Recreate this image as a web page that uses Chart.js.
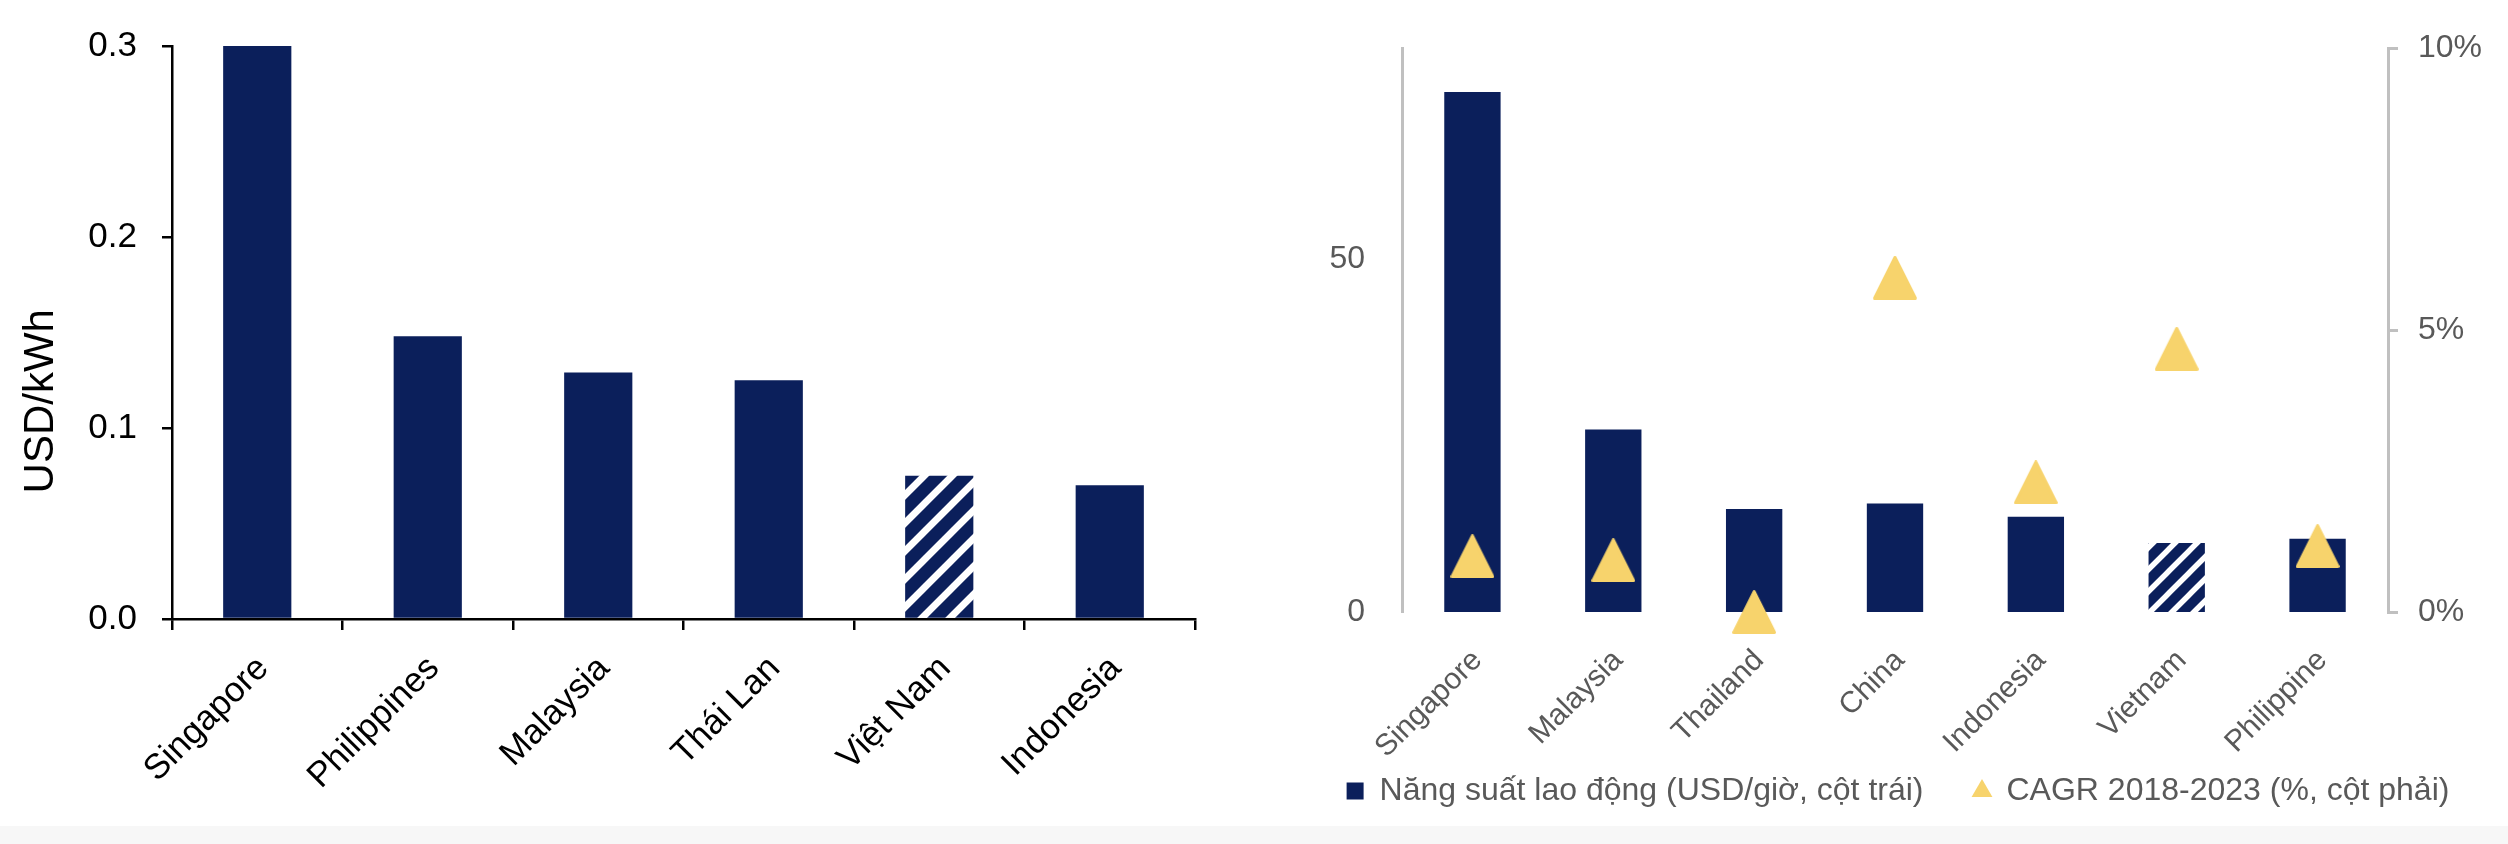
<!DOCTYPE html>
<html><head><meta charset="utf-8">
<script src="https://cdn.jsdelivr.net/npm/chart.js@4.4.1/dist/chart.umd.min.js"></script>
<style>
html,body{margin:0;padding:0;background:#fff;width:2508px;height:844px;overflow:hidden;}
#c1{position:absolute;left:0;top:0;}
#c2{position:absolute;left:1288px;top:0;}
#strip{position:absolute;left:0;top:826px;width:2508px;height:18px;background:#f7f7f7;}
</style></head><body>
<canvas id="c1" width="1288" height="826"></canvas>
<canvas id="c2" width="1220" height="826"></canvas>
<div id="strip"></div>
<script>
// ---------- data: left chart (electricity price) ----------
const costCategories = ['Singapore', 'Philippines', 'Malaysia', 'Thái Lan', 'Việt Nam', 'Indonesia'];
const costValues = [0.300, 0.148, 0.129, 0.125, 0.075, 0.070];
const costHatchedCategory = 'Việt Nam';
const costTicks = [0, 0.1, 0.2, 0.3];
const costAxisTitle = 'USD/kWh';

// ---------- data: right chart (labour productivity) ----------
const prodCategories = ['Singapore', 'Malaysia', 'Thailand', 'China', 'Indonesia', 'Vietnam', 'Philippine'];
const prodValues = [73.8, 25.9, 14.6, 15.4, 13.5, 9.8, 10.4];
const cagrValues = [0.99, 0.92, 0.0, 5.93, 2.30, 4.67, 1.17];
const prodHatchedCategory = 'Vietnam';
const prodTicks = [0, 50];
const cagrTicks = [0, 5, 10];
const legendLabels = ['Năng suất lao động (USD/giờ, cột trái)', 'CAGR 2018-2023 (%, cột phải)'];

// ---------- styles ----------
const FONT = '"Liberation Sans", Arial, sans-serif';
const NAVY = '#0B1F5B';
const YELLOW = '#F7D36C';
const GREY_TXT = '#595959';
const GREY_AX = '#c0c0c0';

function makeHatch(p) {
  const c = document.createElement('canvas');
  c.width = p; c.height = p;
  const g = c.getContext('2d');
  g.fillStyle = NAVY; g.fillRect(0, 0, p, p);
  g.strokeStyle = '#fff';
  g.lineWidth = p * 0.25;
  g.beginPath();
  for (let k = -2; k <= 2; k++) { g.moveTo(k * p - p, 2 * p); g.lineTo(k * p + 2 * p, -p); }
  g.stroke();
  return c.getContext('2d').createPattern(c, 'repeat');
}
function makeTriangle(size, color) {
  const c = document.createElement('canvas');
  c.width = size; c.height = size;
  const g = c.getContext('2d');
  g.fillStyle = color; g.strokeStyle = color; g.lineWidth = 3; g.lineJoin = 'round';
  const m = 1.6;
  g.beginPath();
  g.moveTo(size / 2, m); g.lineTo(size - m, size - m); g.lineTo(m, size - m); g.closePath();
  g.fill(); g.stroke();
  return c;
}

// category labels may run below their axis box (legend sits there); do not clip them
const noLabelClip = {
  id: 'noLabelClip',
  beforeDraw(chart) {
    Object.values(chart.scales).forEach(s => { s._computeLabelArea = () => undefined; });
  }
};

const yTitlePlugin = {
  id: 'yTitle',
  afterDraw(chart) {
    const { ctx, chartArea } = chart;
    ctx.save();
    ctx.font = '42px ' + FONT;
    ctx.fillStyle = '#000';
    ctx.textAlign = 'center';
    ctx.textBaseline = 'middle';
    ctx.translate(41, chartArea.top + 0.62 * (chartArea.bottom - chartArea.top));
    ctx.rotate(-Math.PI / 2);
    ctx.fillText(costAxisTitle, 0, 0);
    ctx.restore();
  }
};

// ---------- left chart ----------
const hatch1 = makeHatch(28);
new Chart(document.getElementById('c1'), {
  type: 'bar',
  data: {
    labels: costCategories,
    datasets: [{
      data: costValues,
      backgroundColor: costCategories.map(c => c === costHatchedCategory ? hatch1 : NAVY),
      barPercentage: 0.4,
      categoryPercentage: 1.0
    }]
  },
  plugins: [yTitlePlugin, noLabelClip],
  options: {
    responsive: false, animation: false, devicePixelRatio: 1,
    layout: { padding: { top: 31, right: 93, left: 0, bottom: 0 } },
    plugins: { legend: { display: false }, tooltip: { enabled: false } },
    scales: {
      x: {
        offset: true,
        grid: { display: true, drawOnChartArea: false, drawTicks: true, tickLength: 11, color: '#000', lineWidth: 2.5, offset: true },
        border: { display: true, color: '#000', width: 2.5 },
        ticks: { font: { family: FONT, size: 35 }, color: '#000', maxRotation: 45, minRotation: 45, autoSkip: false, padding: 18, labelOffset: 6 },
        afterFit: s => { s.height = 207; }
      },
      y: {
        min: 0, max: 0.3,
        grid: { drawOnChartArea: false, drawTicks: true, tickLength: 10, color: '#000', lineWidth: 2.5 },
        border: { display: true, color: '#000', width: 2.5 },
        ticks: { font: { family: FONT, size: 35 }, color: '#000', padding: 25, callback: v => Number(v).toFixed(1) },
        afterBuildTicks: s => { s.ticks = costTicks.map(v => ({ value: v })); },
        afterFit: s => { s.width = 172; }
      }
    }
  }
});

// ---------- right chart ----------
const hatch2 = makeHatch(22);
const triImg = makeTriangle(44, YELLOW);
new Chart(document.getElementById('c2'), {
  type: 'bar',
  data: {
    labels: prodCategories,
    datasets: [
      {
        type: 'line', label: legendLabels[1], data: cagrValues, yAxisID: 'y1',
        showLine: false, pointStyle: triImg, pointRadius: 22, pointHoverRadius: 22,
        backgroundColor: YELLOW, borderColor: YELLOW, clip: false, order: 1
      },
      {
        type: 'bar', label: legendLabels[0], data: prodValues, yAxisID: 'y',
        backgroundColor: prodCategories.map(c => c === prodHatchedCategory ? hatch2 : NAVY),
        barPercentage: 0.4, categoryPercentage: 1.0, order: 2
      }
    ]
  },
  plugins: [noLabelClip],
  options: {
    responsive: false, animation: false, devicePixelRatio: 1,
    layout: { padding: { top: 21, right: 0, left: 0, bottom: 9 } },
    plugins: {
      tooltip: { enabled: false },
      legend: {
        display: true, position: 'bottom',
        labels: {
          usePointStyle: true, boxWidth: 17, boxHeight: 17, padding: 50,
          font: { family: FONT, size: 32 }, color: GREY_TXT,
          generateLabels: () => [
            { text: legendLabels[0], fillStyle: NAVY, strokeStyle: NAVY, lineWidth: 0, pointStyle: 'rect', datasetIndex: 1, hidden: false, fontColor: GREY_TXT },
            { text: legendLabels[1], fillStyle: YELLOW, strokeStyle: YELLOW, lineWidth: 0, pointStyle: 'triangle', datasetIndex: 0, hidden: false, fontColor: GREY_TXT }
          ]
        }
      }
    },
    scales: {
      x: {
        offset: true,
        grid: { display: false },
        border: { display: false },
        ticks: { font: { family: FONT, size: 30 }, color: GREY_TXT, maxRotation: 45, minRotation: 45, autoSkip: false, padding: 23, labelOffset: 5 },
        afterFit: s => { s.height = 113; }
      },
      y: {
        position: 'left', min: 0, max: 80,
        grid: { display: false },
        border: { display: true, color: GREY_AX, width: 3 },
        ticks: { font: { family: FONT, size: 32 }, color: GREY_TXT, padding: 29 },
        afterBuildTicks: s => { s.ticks = prodTicks.map(v => ({ value: v })); },
        afterFit: s => { s.width = 114; }
      },
      y1: {
        position: 'right', min: 0, max: 10,
        grid: { drawOnChartArea: false, drawTicks: true, tickLength: 10, color: GREY_AX, lineWidth: 3 },
        border: { display: true, color: GREY_AX, width: 3 },
        ticks: { font: { family: FONT, size: 32 }, color: GREY_TXT, padding: 20, callback: v => v + '%' },
        afterBuildTicks: s => { s.ticks = cagrTicks.map(v => ({ value: v })); },
        afterFit: s => { s.width = 120; }
      }
    }
  }
});
</script>
</body></html>
